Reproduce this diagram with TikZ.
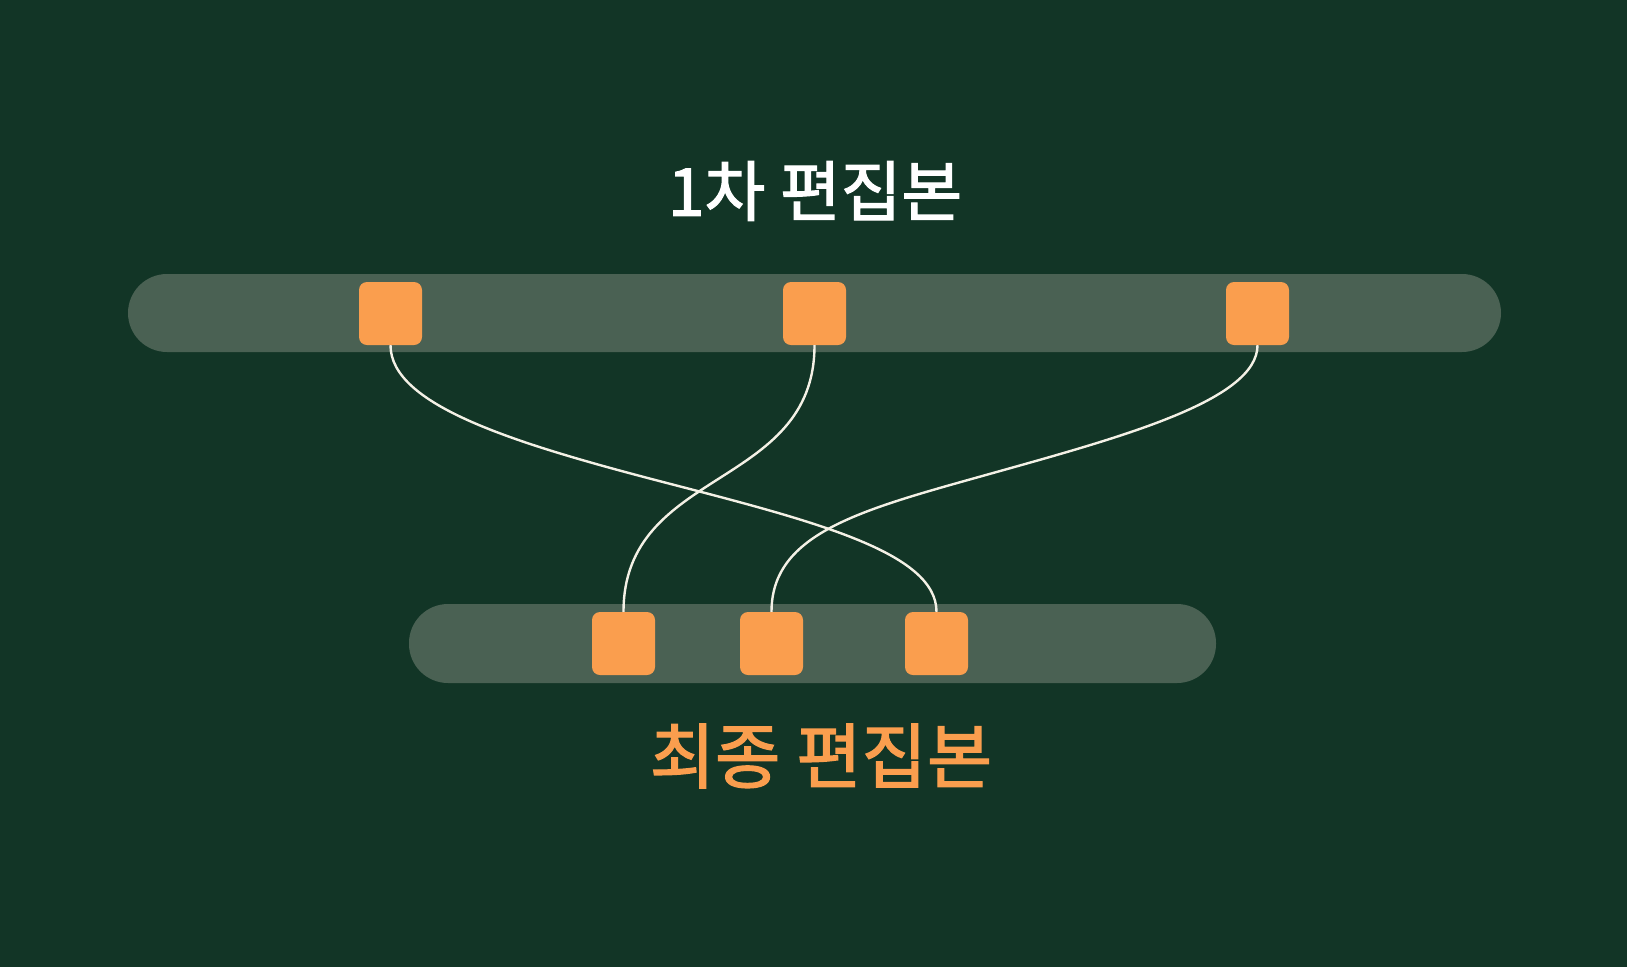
\documentclass[tikz,border=0pt]{standalone}
\usepackage{fontspec}
\newfontfamily\kr[FakeBold=1.8]{Noto Sans CJK KR}
\definecolor{bg}{HTML}{123526}
\definecolor{barcol}{HTML}{4A6153}
\definecolor{sqcol}{HTML}{FA9E4E}
\definecolor{wire}{HTML}{F4F1E6}
\begin{document}
\begin{tikzpicture}[x=1pt,y=-1pt,
  bar/.style={fill=barcol, draw=none, rounded corners=39pt},
  clip/.style={fill=sqcol, draw=none, rounded corners=8pt, minimum width=63pt, minimum height=63pt, inner sep=0pt},
  wireline/.style={draw=wire, line width=2.4pt},
  title/.style={inner sep=0pt, font=\kr}]
\fill[bg] (0,0) rectangle (1627,967);
\useasboundingbox (0,0) rectangle (1627,967);
% bars
\fill[bar] (128,274) rectangle (1501,352);
\fill[bar] (409,604) rectangle (1216,683);
% clips
\node[clip] (t1) at (390.5,313.5) {};
\node[clip] (t2) at (814.5,313.5) {};
\node[clip] (t3) at (1257.5,313.5) {};
\node[clip] (b1) at (623.5,643.5) {};
\node[clip] (b2) at (771.5,643.5) {};
\node[clip] (b3) at (936.5,643.5) {};
% midpoints
\coordinate (m1) at (663,482);
\coordinate (m3) at (993,473);
% wires
\draw[wireline] (t1.south) .. controls (390.5,405) and (513,443) .. (m1)
  .. controls (813,521) and (936.5,552) .. (b3.north);
\draw[wireline] (t2.south) .. controls (814.5,490) and (623.5,467) .. (b1.north);
\draw[wireline] (t3.south) .. controls (1257.5,400) and (1123,436.6) .. (m3)
  .. controls (863,509.4) and (771.5,532) .. (b2.north);
% titles
\node[title, text=white, font=\kr\fontsize{66}{76}\selectfont] (top) at (815,191) {1차 편집본};
\node[title, text=sqcol, font=\kr\fontsize{71}{82}\selectfont] (bot) at (821,756) {최종 편집본};
\end{tikzpicture}
\end{document}
